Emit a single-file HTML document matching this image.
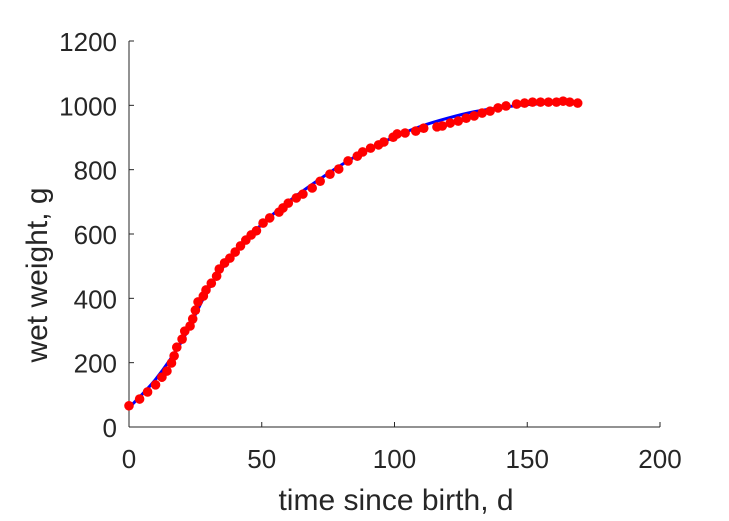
<!DOCTYPE html>
<html><head><meta charset="utf-8"><style>
body{margin:0;background:#fff;}
svg{display:block;font-family:"Liberation Sans",Arial,sans-serif;}
</style></head><body>
<svg id="chart" width="729" height="521" viewBox="0 0 729 521" xmlns="http://www.w3.org/2000/svg">
<g id="axes"></g>
<g id="series"></g>
</svg>
<script>
const xTicks=[0,50,100,150,200];
const yTicks=[0,200,400,600,800,1000,1200];
const obsT=[0,4,7,10,12.4,14.3,16,17,18,20,21,23,24,25,26,28,29,31,33,34,36,38,40,42,44,46,48,50.5,53,56.5,58,60,63,65.5,69,72,75.7,79,82.5,86,88,91,94,96,99.5,101,104,108,111,116,118,121,124,127,130,133,136,139,142,146,149,152,155,158,161,163.5,166,169];
const obsW=[66,87,109,131,155,174,199,221,248,273,298,314,336,363,389,407,426,447,469,491,510,525,544,563,581,597,610,634,650,668,681,696,712,724,743,764,786,802,827,842,855,867,877,886,901,911,914,920,929,933,936,945,951,960,967,976,982,992,998,1004,1007,1010,1010,1010,1010,1013,1010,1007];
const fitT=[0,10,20,30,40,50,60,70,80,90,100,110,120,130,140,150,160,170];
const fitW=[60,148,268,430,545,630,700,760,815,862,902,935,960,980,993,1002,1007,1008];
const NS="http://www.w3.org/2000/svg";
const X0=129,X1=660,Y0=427,Y1=41;
function xs(t){return X0+(t-0)/(200-0)*(X1-X0);}
function ys(w){return Y0-(w-0)/(1200-0)*(Y0-Y1);}
function mk(tag,attrs,parent){const e=document.createElementNS(NS,tag);for(const k in attrs)e.setAttribute(k,attrs[k]);parent.appendChild(e);return e;}
const ax=document.getElementById('axes');
let l=mk('line',{x1:X0,y1:Y0,x2:X1,y2:Y0,stroke:'#262626','stroke-width':1},ax);


l=mk('line',{x1:X0,y1:Y0,x2:X0,y2:Y1,stroke:'#262626','stroke-width':1},ax);


xTicks.forEach(v=>{
 const x=xs(v);
 const t=mk('line',{x1:x,y1:Y0,x2:x,y2:Y0-5,stroke:'#262626'},ax);
 
 
 const tx=mk('text',{x:x,y:Y0+41,'text-anchor':'middle','font-size':'26',fill:'#262626'},ax);
 tx.textContent=v;
 
 
});
yTicks.forEach(v=>{
 const y=ys(v);
 const t=mk('line',{x1:X0,y1:y,x2:X0+5,y2:y,stroke:'#262626'},ax);
 
 
 const tx=mk('text',{x:X0-12,y:y+10,'text-anchor':'end','font-size':'26',fill:'#262626'},ax);
 tx.textContent=v;
 
 
});
let xl=mk('text',{x:396,y:510,'text-anchor':'middle','font-size':'30',fill:'#262626'},ax);
xl.textContent='time since birth, d';


let yl=mk('text',{x:0,y:0,'text-anchor':'middle','font-size':'30',fill:'#262626',transform:'translate(47,275) rotate(-90)'},ax);
yl.textContent='wet weight, g';


const sr=document.getElementById('series');
const P=fitT.map((t,i)=>[xs(t),ys(fitW[i])]);
let d='M'+P[0][0]+','+P[0][1];
for(let i=0;i<P.length-1;i++){
 const p0=P[Math.max(0,i-1)],p1=P[i],p2=P[i+1],p3=P[Math.min(P.length-1,i+2)];
 d+=' C'+(p1[0]+(p2[0]-p0[0])/6)+','+(p1[1]+(p2[1]-p0[1])/6)+' '+(p2[0]-(p3[0]-p1[0])/6)+','+(p2[1]-(p3[1]-p1[1])/6)+' '+p2[0]+','+p2[1];
}
const fl=mk('path',{d:d,fill:'none',stroke:'#0000ff','stroke-width':3},sr);


obsT.forEach((t,i)=>{
 const c=mk('circle',{cx:xs(t),cy:ys(obsW[i]),r:4.8,fill:'#ff0000'},sr);
 
 
});
</script>
</body></html>
